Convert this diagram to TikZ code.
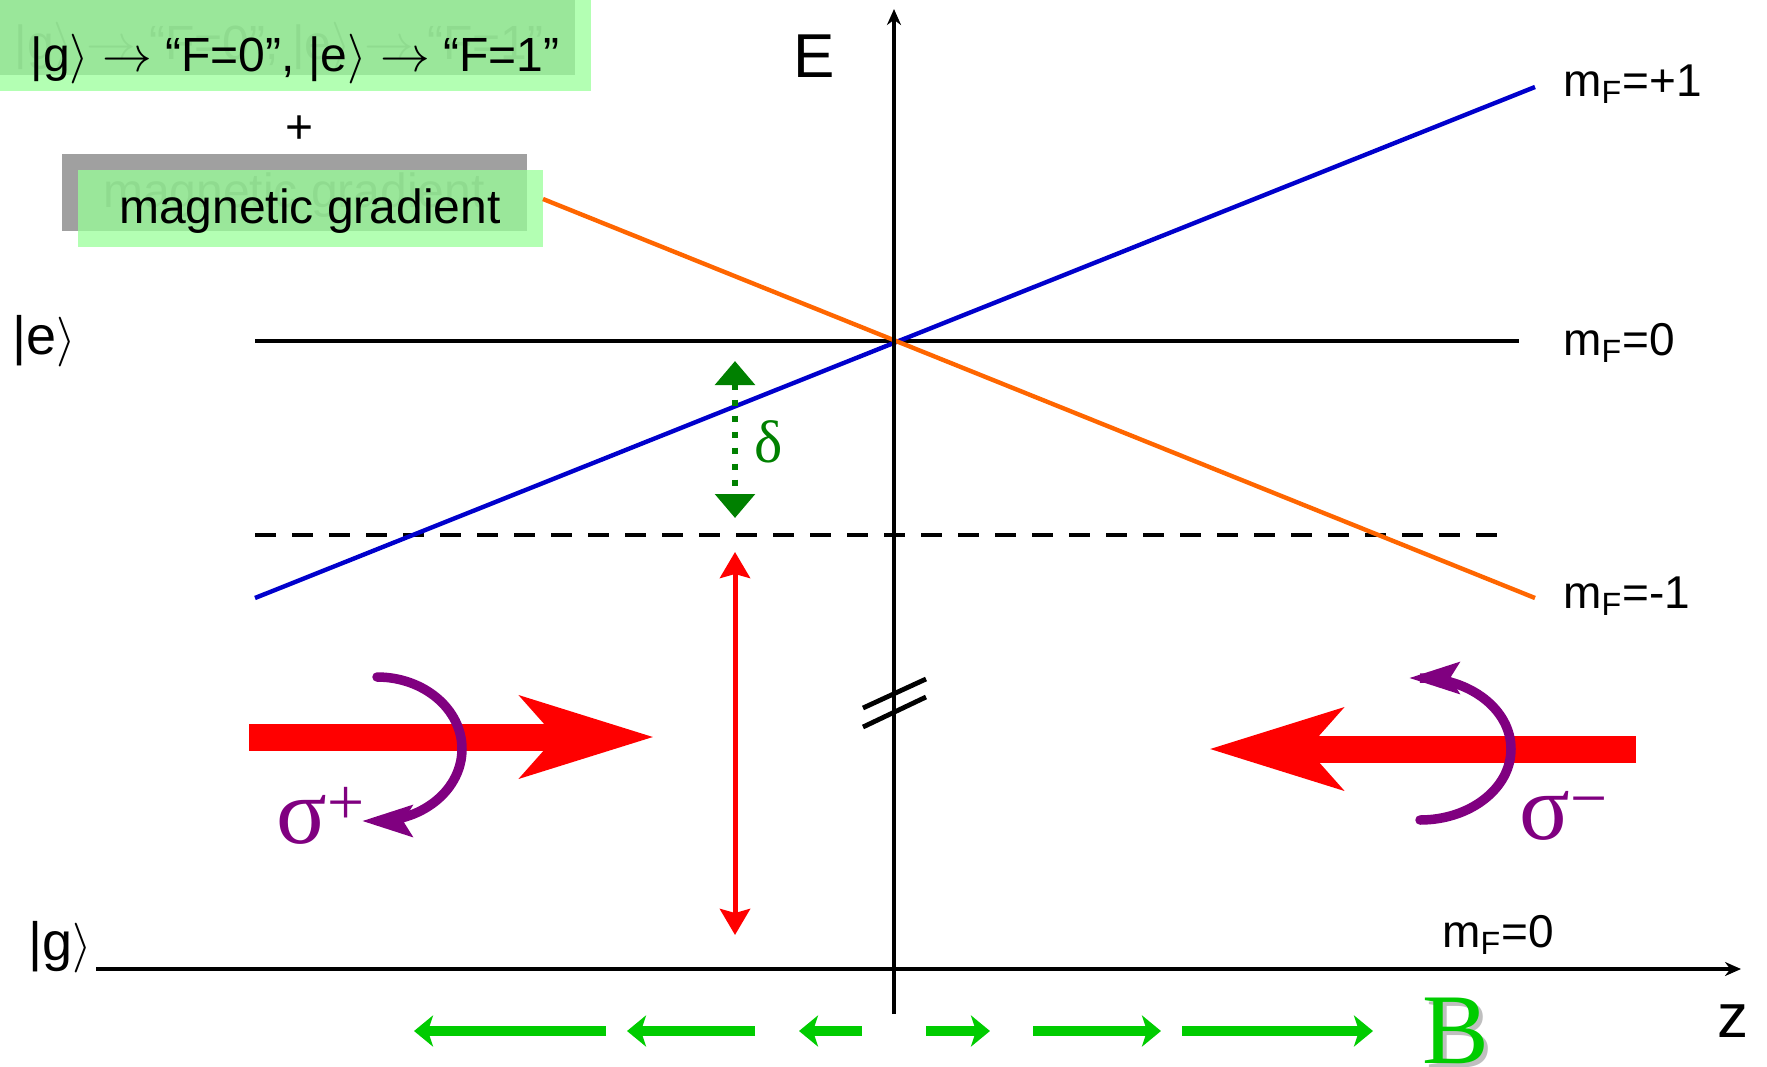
\documentclass[tikz,border=0pt]{standalone}
\usepackage{fontspec}
\setmainfont{Liberation Sans}
\newfontfamily\greekfont{Liberation Serif}
\usetikzlibrary{arrows.meta, positioning}
\definecolor{levelblue}{RGB}{0,0,204}
\definecolor{levelorange}{RGB}{255,102,0}
\definecolor{detgreen}{RGB}{0,128,0}
\definecolor{fieldgreen}{RGB}{0,204,0}
\definecolor{polpurple}{RGB}{128,0,128}
\definecolor{boxgreen}{RGB}{153,255,153}
\definecolor{boxgrey}{RGB}{160,160,160}

\begin{document}
\begin{tikzpicture}[x=0.5pt, y=-0.5pt,
    lbl/.style={font=\fontsize{#1}{#1}\selectfont, inner sep=0pt},
    lbl/.default=24,
    ghost/.style={lbl, text=black!55},
    backbox/.style={fill=boxgrey},
    frontbox/.style={fill=boxgreen, fill opacity=0.75},
    level/.style={line width=2.4pt},
    zeeman/.style={line width=2.2pt},
    axis/.style={line width=2.2pt, -{Stealth[length=8pt, width=7pt]}},
    beam/.style={red, line width=13.5pt, -{Stealth[length=66pt, width=40pt, inset=17pt]}},
    circpol/.style={polpurple, line width=4.75pt, line cap=round, -{Stealth[length=25pt, width=15.5pt, inset=4.5pt]}},
    probe/.style={red, line width=2.5pt, {Stealth[length=13pt, width=15pt, inset=2pt]}-{Stealth[length=13pt, width=15pt, inset=2pt]}},
    detuning/.style={detgreen, line width=3.2pt, dash pattern=on 3.2pt off 4.8pt, {Triangle[length=12pt, width=19.5pt]}-{Triangle[length=12pt, width=19.5pt]}},
    fieldarrow/.style={fieldgreen, line width=5pt, -{Stealth[length=9.5pt, width=15.5pt, inset=2.5pt]}},
    greek/.style={font=\greekfont\fontsize{#1}{#1}\selectfont, inner sep=0pt}]
  \useasboundingbox (0,0) rectangle (1767,1066);

  \fill[backbox] (-16,-16) rectangle (575,75);
  \node[ghost, anchor=base] (hfghost) at (279,59) {|g$\rangle$ $\rightarrow$ “F=0”, |e$\rangle$ $\rightarrow$ “F=1”};
  \fill[frontbox] (0,0) rectangle (591,91);
  \node[lbl, anchor=base] (hyperfine) at (295,71) {|g$\rangle$ $\rightarrow$ “F=0”, |e$\rangle$ $\rightarrow$ “F=1”};
  \node[lbl] (plus) at (300,130) {+};
  \fill[backbox] (62,154) rectangle (527,231);
  \node[ghost, anchor=base] (gradghost) at (294,207) {magnetic gradient};
  \fill[frontbox] (78,170) rectangle (543,247);
  \node[lbl, anchor=base] (gradient) at (310,223) {magnetic gradient};

  \coordinate (eL) at (255,341);
  \coordinate (eR) at (1519,341);
  \coordinate (dL) at (255,535);
  \coordinate (dR) at (1512,535);
  \coordinate (pL) at (255,598);
  \coordinate (pR) at (1535,87);
  \coordinate (mL) at (543,199);
  \coordinate (mR) at (1535,598);
  \coordinate (Ebot) at (894,1014);
  \coordinate (Etop) at (894,9);
  \coordinate (zL) at (96,969);
  \coordinate (zR) at (1741,969);

  \draw[level] (eL) -- (eR);
  \draw[level, dash pattern=on 10.5pt off 8pt] (dL) -- (dR);
  \draw[zeeman, levelblue] (pL) -- (pR);
  \draw[zeeman, levelorange] (mL) -- (mR);
  \draw[axis] (Ebot) -- (Etop);
  \draw[axis] (zL) -- (zR);
  \draw[level] (863,708) -- (926,679);
  \draw[level] (863,727) -- (926,697);

  \node[lbl=31, anchor=base] (Elbl) at (814,77) {E};
  \node[lbl=31, anchor=base] (zlbl) at (1733,1037) {z};
  \node[lbl=27, anchor=base west] (elbl) at (12,354) {|e$\rangle$};
  \node[lbl=27, anchor=base west] (glbl) at (28,960) {|g$\rangle$};
  \node[lbl=23, anchor=base west] (mplus) at (1563,96) {m\textsubscript{F}=+1};
  \node[lbl=23, anchor=base west] (mzero) at (1563,355) {m\textsubscript{F}=0};
  \node[lbl=23, anchor=base west] (mminus) at (1563,608) {m\textsubscript{F}=-1};
  \node[lbl=23, anchor=base west] (mground) at (1442,947) {m\textsubscript{F}=0};

  \coordinate (dtop) at (735,361);
  \coordinate (dbot) at (735,518);
  \draw[detuning] (dtop) -- (dbot);
  \node[greek=30, text=detgreen] (deltalbl) at (769,442) {δ};
  \coordinate (ptop) at (735,552);
  \coordinate (pbot) at (735,935);
  \draw[probe] (ptop) -- (pbot);

  \coordinate (lbeam) at (249,737);
  \coordinate (lbeamtip) at (654,737);
  \coordinate (rbeam) at (1636,749);
  \coordinate (rbeamtip) at (1209,749);
  \draw[beam] (lbeam) -- (lbeamtip);
  \draw[beam] (rbeam) -- (rbeamtip);
  \draw[circpol] (377,677) arc[start angle=-90, end angle=90, x radius=85, y radius=72] -- (362,821);
  \draw[circpol] (1420,820) arc[start angle=90, end angle=-90, x radius=91, y radius=71] -- (1409,678);
  \node[greek=47, text=polpurple, anchor=base west] (sigplus) at (276,843) {σ\textsuperscript{+}};
  \node[greek=47, text=polpurple, anchor=base west] (sigminus) at (1519,839) {σ\textsuperscript{−}};

  \draw[fieldarrow] (606,1031) -- (414,1031);
  \draw[fieldarrow] (755,1031) -- (627,1031);
  \draw[fieldarrow] (862,1031) -- (799,1031);
  \draw[fieldarrow] (926,1031) -- (990,1031);
  \draw[fieldarrow] (1033,1031) -- (1161,1031);
  \draw[fieldarrow] (1182,1031) -- (1373,1031);
  \node[greek=50, text=black!25] (Bshadow) at (1460,1035) {B};
  \node[greek=50, text=fieldgreen] (Bfield) at (1456,1031) {B};
\end{tikzpicture}
\end{document}
